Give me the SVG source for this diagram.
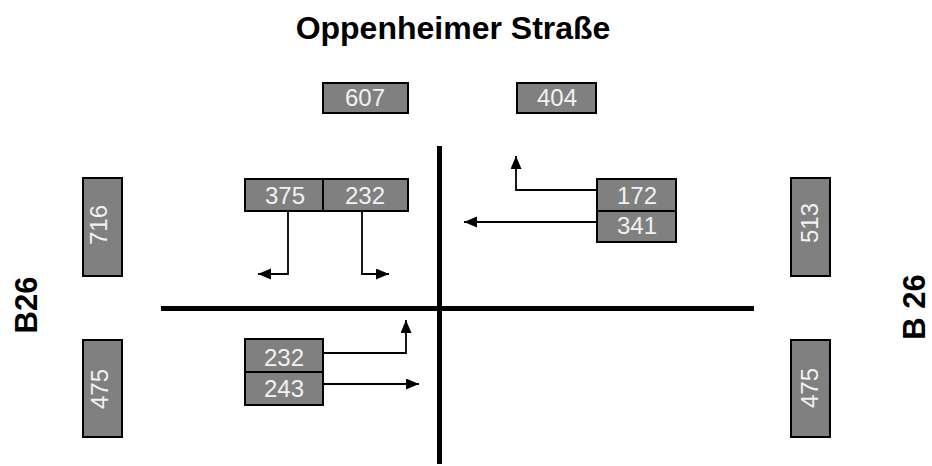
<svg xmlns="http://www.w3.org/2000/svg" width="932" height="466" viewBox="0 0 932 466">
<defs>
<style>
.box{fill:#808080;stroke:#000;stroke-width:2}
.num{font-family:"Liberation Sans",Arial,sans-serif;font-size:24px;fill:#f2f2f2;text-anchor:middle}
.title{font-family:"Liberation Sans",Arial,sans-serif;font-weight:bold;fill:#000;text-anchor:middle}
.road{stroke:#000;stroke-width:5;fill:none}
.arr{stroke:#000;stroke-width:1.8;fill:none;marker-end:url(#ah)}
</style>
<marker id="ah" markerUnits="userSpaceOnUse" markerWidth="14" markerHeight="12" refX="13" refY="5.5" orient="auto">
<path d="M0,0 L13,5.5 L0,11 Z" fill="#000"/>
</marker>
</defs>
<rect width="932" height="466" fill="#fff"/>
<text class="title" x="453" y="39" font-size="32">Oppenheimer Straße</text>
<text class="title" font-size="31" transform="translate(37,305) rotate(-90)">B26</text>
<text class="title" font-size="31" transform="translate(925,307) rotate(-90)">B 26</text>
<g id="roads">
<line class="road" x1="161" y1="308.5" x2="754" y2="308.5"/>
<line class="road" x1="439.5" y1="146" x2="439.5" y2="464"/>
</g>
<g id="n607"><rect class="box" x="323" y="83" width="85" height="30"/><text class="num" x="365" y="106">607</text></g>
<g id="n404"><rect class="box" x="517" y="83" width="79" height="30"/><text class="num" x="557" y="106">404</text></g>
<g id="n375"><rect class="box" x="245" y="179" width="78" height="32"/><text class="num" x="285" y="204">375</text></g>
<g id="n232a"><rect class="box" x="323" y="179" width="85" height="32"/><text class="num" x="365" y="204">232</text></g>
<g id="n172"><rect class="box" x="597" y="179" width="79" height="32"/><text class="num" x="637" y="204">172</text></g>
<g id="n341"><rect class="box" x="597" y="211" width="79" height="31"/><text class="num" x="637" y="234">341</text></g>
<g id="n232b"><rect class="box" x="245" y="339" width="78" height="33"/><text class="num" x="284" y="366">232</text></g>
<g id="n243"><rect class="box" x="245" y="372" width="78" height="33"/><text class="num" x="284" y="397">243</text></g>
<g id="n716"><rect class="box" x="83" y="178" width="39" height="98"/><text class="num" transform="translate(107,225) rotate(-90)">716</text></g>
<g id="n475l"><rect class="box" x="83" y="340" width="39" height="97"/><text class="num" transform="translate(108,389) rotate(-90)">475</text></g>
<g id="n513"><rect class="box" x="791" y="178" width="39" height="98"/><text class="num" transform="translate(818,223) rotate(-90)">513</text></g>
<g id="n475r"><rect class="box" x="791" y="340" width="39" height="97"/><text class="num" transform="translate(818,388) rotate(-90)">475</text></g>
<g id="connectors">
<path class="arr" d="M288,211 V274 H258"/>
<path class="arr" d="M362,211 V274 H389"/>
<path class="arr" d="M597,190 H516 V156"/>
<path class="arr" d="M597,222 H464"/>
<path class="arr" d="M323,353 H406 V320"/>
<path class="arr" d="M323,384 H419"/>
</g>
</svg>
